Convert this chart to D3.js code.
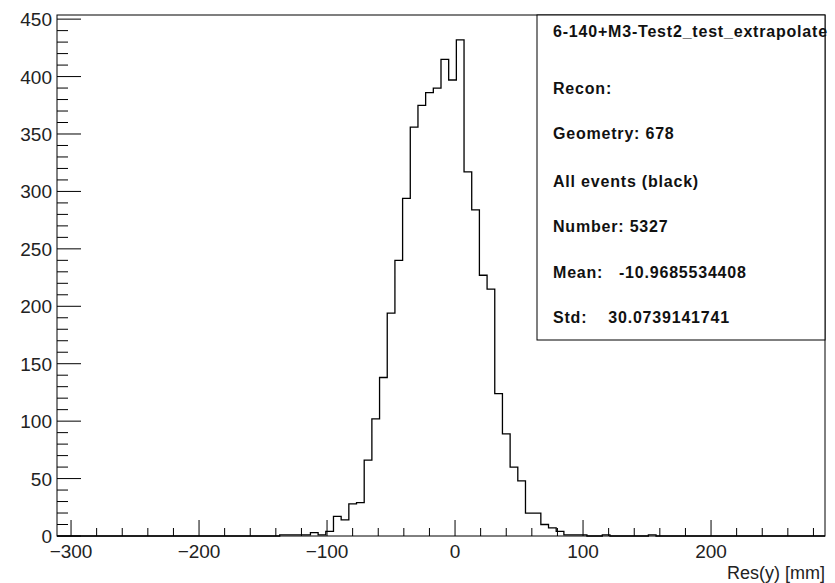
<!DOCTYPE html>
<html>
<head>
<meta charset="utf-8">
<script src="https://cdn.jsdelivr.net/npm/d3@7"></script>
<style>
  body { margin: 0; background: #fff; }
  svg { display: block; }
</style>
</head>
<body>
<script>
//histogram binning: 100 bins of 6 mm starting at mean - 300
var binLow = -310.9685534408,
    binWidth = 6,
    nBins = 100;

//counts, starting at bin index firstBin
var firstBin = 29;
var counts = [1, 1, 1, 1, 3, 1, 4, 17, 14, 28,
              29, 66, 102, 138, 194, 240, 294, 356, 375, 386,
              390, 415, 397, 432, 317, 284, 227, 215, 124, 89,
              60, 48, 20, 20, 10, 7, 4, 1, 1, 1,
              0, 0, 1, 0, 0, 0, 0, 0, 1];

//axis ticks
var xMajor = [-300, -200, -100, 0, 100, 200];
var yMajor = [0, 50, 100, 150, 200, 250, 300, 350, 400, 450];

//stats box lines
var statLines = ["6-140+M3-Test2_test_extrapolate",
                 "Recon:",
                 "Geometry: 678",
                 "All events (black)",
                 "Number: 5327",
                 "Mean:   -10.9685534408",
                 "Std:    30.0739141741"];

var width = 835,
    height = 583;
var frame = {left: 57, right: 825, top: 15, bottom: 536};

var svg = d3.select("body")
    .append("svg")
    .attr("width", width)
    .attr("height", height);

var x = d3.scaleLinear()
    .domain([binLow, binLow + nBins * binWidth])
    .range([frame.left, frame.right]);

var y = d3.scaleLinear()
    .domain([0, 453.6])
    .range([frame.bottom, frame.top]);

//full bin list
var bins = d3.range(nBins).map(function(i){
    var j = i - firstBin;
    return {x0: binLow + i * binWidth,
            x1: binLow + (i + 1) * binWidth,
            n: (j >= 0 && j < counts.length) ? counts[j] : 0};
});

//frame
svg.append("rect")
    .attr("x", frame.left)
    .attr("y", frame.top)
    .attr("width", frame.right - frame.left)
    .attr("height", frame.bottom - frame.top)
    .attr("fill", "none")
    .attr("stroke", "#000")
    .attr("stroke-width", 1);

//histogram outline
var pts = [[x(bins[0].x0), y(0)]];
bins.forEach(function(b){
    pts.push([x(b.x0), y(b.n)]);
    pts.push([x(b.x1), y(b.n)]);
});
pts.push([x(bins[nBins - 1].x1), y(0)]);

svg.append("path")
    .attr("d", d3.line()(pts))
    .attr("fill", "none")
    .attr("stroke", "#000")
    .attr("stroke-width", 1.3);

//x axis ticks
var xMinor = d3.range(-300, 290, 20);
var xAxis = svg.append("g");
xAxis.selectAll("line.minor")
    .data(xMinor)
    .enter()
    .append("line")
    .attr("x1", function(d){ return x(d); })
    .attr("x2", function(d){ return x(d); })
    .attr("y1", frame.bottom)
    .attr("y2", function(d){ return frame.bottom - (d % 100 === 0 ? 16 : 8); })
    .attr("stroke", "#000")
    .attr("stroke-width", 1);

xAxis.selectAll("text")
    .data(xMajor)
    .enter()
    .append("text")
    .attr("x", function(d){ return x(d); })
    .attr("y", 558)
    .attr("text-anchor", "middle")
    .attr("font-family", "Liberation Sans, Arial, sans-serif")
    .attr("font-size", 19)
    .attr("fill", "#222")
    .text(d3.format("d"));

svg.append("text")
    .attr("x", 825)
    .attr("y", 579)
    .attr("text-anchor", "end")
    .attr("font-family", "Liberation Sans, Arial, sans-serif")
    .attr("font-size", 18)
    .attr("fill", "#222")
    .text("Res(y) [mm]");

//y axis ticks
var yMinor = d3.range(0, 451, 10);
var yAxis = svg.append("g");
yAxis.selectAll("line")
    .data(yMinor)
    .enter()
    .append("line")
    .attr("x1", frame.left)
    .attr("x2", function(d){ return frame.left + (d % 50 === 0 ? 24 : 11); })
    .attr("y1", function(d){ return y(d); })
    .attr("y2", function(d){ return y(d); })
    .attr("stroke", "#000")
    .attr("stroke-width", 1);

yAxis.selectAll("text")
    .data(yMajor)
    .enter()
    .append("text")
    .attr("x", 52)
    .attr("y", function(d){ return y(d) + 7; })
    .attr("text-anchor", "end")
    .attr("font-family", "Liberation Sans, Arial, sans-serif")
    .attr("font-size", 19)
    .attr("fill", "#222")
    .text(function(d){ return d; });

//stats box
svg.append("rect")
    .attr("x", 537)
    .attr("y", frame.top)
    .attr("width", frame.right - 537)
    .attr("height", 340 - frame.top)
    .attr("fill", "#fff")
    .attr("stroke", "#000")
    .attr("stroke-width", 1);

var lineY = [37, 94, 139, 187, 232, 278, 323];
svg.selectAll("text.stat")
    .data(statLines)
    .enter()
    .append("text")
    .attr("class", "stat")
    .attr("x", 553)
    .attr("y", function(d, i){ return lineY[i]; })
    .attr("font-family", "Liberation Sans, Arial, sans-serif")
    .attr("font-weight", "bold")
    .attr("font-size", 16)
    .attr("letter-spacing", 0.8)
    .attr("xml:space", "preserve")
    .style("white-space", "pre")
    .attr("fill", "#111")
    .text(function(d){ return d; });
</script>
</body>
</html>
